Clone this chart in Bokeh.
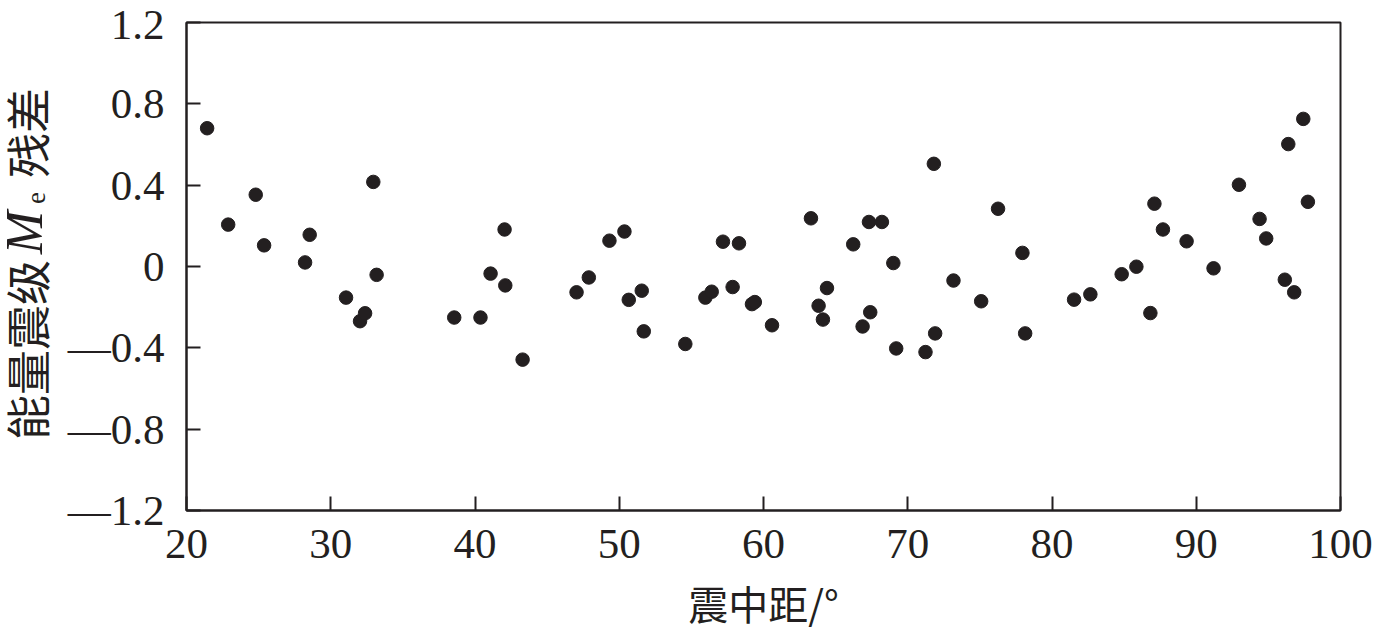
from bokeh.plotting import figure
from bokeh.layouts import row
from bokeh.models import FixedTicker, CustomJSTickFormatter, Range1d, Div
from bokeh.embed import file_html
from bokeh.resources import INLINE

distance = [21.43, 24.80, 22.89, 25.38, 28.22, 28.54, 31.06, 32.03, 32.38, 32.95,
            33.18, 38.56, 40.38, 41.08, 42.05, 42.10, 43.30, 47.04, 47.89, 49.32,
            50.36, 50.66, 51.56, 51.70, 54.58, 55.97, 56.41, 57.19, 57.86, 58.30,
            59.20, 59.40, 60.59, 63.29, 63.82, 64.12, 64.40, 66.22, 66.87, 67.31,
            67.40, 68.21, 69.00, 69.20, 71.23, 71.81, 71.90, 73.17, 75.09, 76.26,
            77.95, 78.14, 81.53, 82.66, 84.83, 85.85, 86.82, 87.10, 87.69, 89.33,
            91.20, 92.96, 94.39, 94.85, 96.14, 96.38, 96.79, 97.42, 97.74]
residual = [0.680, 0.353, 0.206, 0.104, 0.020, 0.156, -0.153, -0.269, -0.230, 0.416,
            -0.041, -0.251, -0.251, -0.035, 0.182, -0.093, -0.458, -0.127, -0.054, 0.127,
            0.172, -0.164, -0.119, -0.319, -0.381, -0.153, -0.124, 0.122, -0.101, 0.114,
            -0.185, -0.175, -0.289, 0.237, -0.193, -0.261, -0.106, 0.109, -0.295, 0.219,
            -0.225, 0.219, 0.017, -0.403, -0.421, 0.505, -0.329, -0.069, -0.171, 0.284,
            0.067, -0.329, -0.163, -0.137, -0.038, -0.001, -0.229, 0.309, 0.182, 0.124,
            -0.009, 0.402, 0.234, 0.138, -0.065, 0.602, -0.127, 0.726, 0.318]

x_ticks = [20, 30, 40, 50, 60, 70, 80, 90, 100]
y_ticks = [-1.2, -0.8, -0.4, 0, 0.4, 0.8, 1.2]
x_title = "震中距/°"
y_title_parts = ["能量震级", "M", "e", "残差"]

INK = "#231f20"
SERIF = "Liberation Serif"
CJK = "Noto Sans CJK SC"

W, H = 1378, 634
LEFT_W = 64

# ---- vertical y-axis title (sideways text, italic M with subscript e) ----
# (centre x, start y from top, font, size px, style, line-height)
specs = [(27, 440, CJK, 45, "normal", 0.95),
         (25, 254, SERIF, 52, "italic", 0.8),
         (36, 204, SERIF, 27, "normal", 1.0),
         (27, 178, CJK, 45, "normal", 0.95)]
spans = []
for txt, (px, py, font, size, style, lh) in zip(y_title_parts, specs):
    bw = size * lh
    spans.append(
        f'<span style="position:absolute;left:{px - bw / 2:.1f}px;bottom:{H - py}px;'
        f'width:{bw:.1f}px;writing-mode:vertical-rl;text-orientation:sideways;'
        f'transform:rotate(180deg);white-space:nowrap;line-height:{lh};'
        f'font-family:\'{font}\';font-size:{size}px;font-style:{style};'
        f'font-weight:normal;">{txt}</span>')
html = (f'<div style="position:relative;width:{LEFT_W}px;height:{H}px;'
        f'overflow:visible;color:{INK};background:white;">' + "".join(spans) + '</div>')
ytitle = Div(text=html, width=LEFT_W, height=H, margin=0,
             styles={"overflow": "visible"})

# ---- main plot ----
p = figure(width=W - LEFT_W, height=H, output_backend="svg", toolbar_location=None,
           x_range=Range1d(20, 100), y_range=Range1d(-1.2, 1.2),
           min_border_left=185 - LEFT_W, min_border_right=38,
           min_border_top=22, min_border_bottom=117, margin=0)

p.scatter(distance, residual, size=13.5, color=INK, line_color=INK)

p.xgrid.visible = False
p.ygrid.visible = False
p.outline_line_color = INK
p.outline_line_width = 2
p.background_fill_color = "white"
p.border_fill_color = "white"

for ax in (p.xaxis[0], p.yaxis[0]):
    ax.axis_line_color = INK
    ax.axis_line_width = 2
    ax.major_tick_line_color = INK
    ax.major_tick_line_width = 2
    ax.major_tick_in = 14
    ax.major_tick_out = 0
    ax.minor_tick_line_color = None
    ax.major_label_text_font = SERIF
    ax.major_label_text_font_size = "43px"
    ax.major_label_text_color = INK

p.xaxis.ticker = FixedTicker(ticks=x_ticks)
p.yaxis.ticker = FixedTicker(ticks=y_ticks)
p.yaxis.formatter = CustomJSTickFormatter(code="""
    if (Math.abs(tick) < 1e-9) return "0";
    const s = Math.abs(tick).toFixed(1);
    return tick < 0 ? "\u2014" + s : s;
""")
p.yaxis.major_label_standoff = 22
p.xaxis.major_label_standoff = 19

p.xaxis.axis_label = x_title
p.xaxis.axis_label_text_font = CJK
p.xaxis.axis_label_text_font_style = "normal"
p.xaxis.axis_label_text_font_size = "40px"
p.xaxis.axis_label_text_color = INK
p.xaxis.axis_label_standoff = 13

layout = row(ytitle, p, spacing=0, margin=0)
open("out.html", "w").write(file_html(layout, INLINE))
